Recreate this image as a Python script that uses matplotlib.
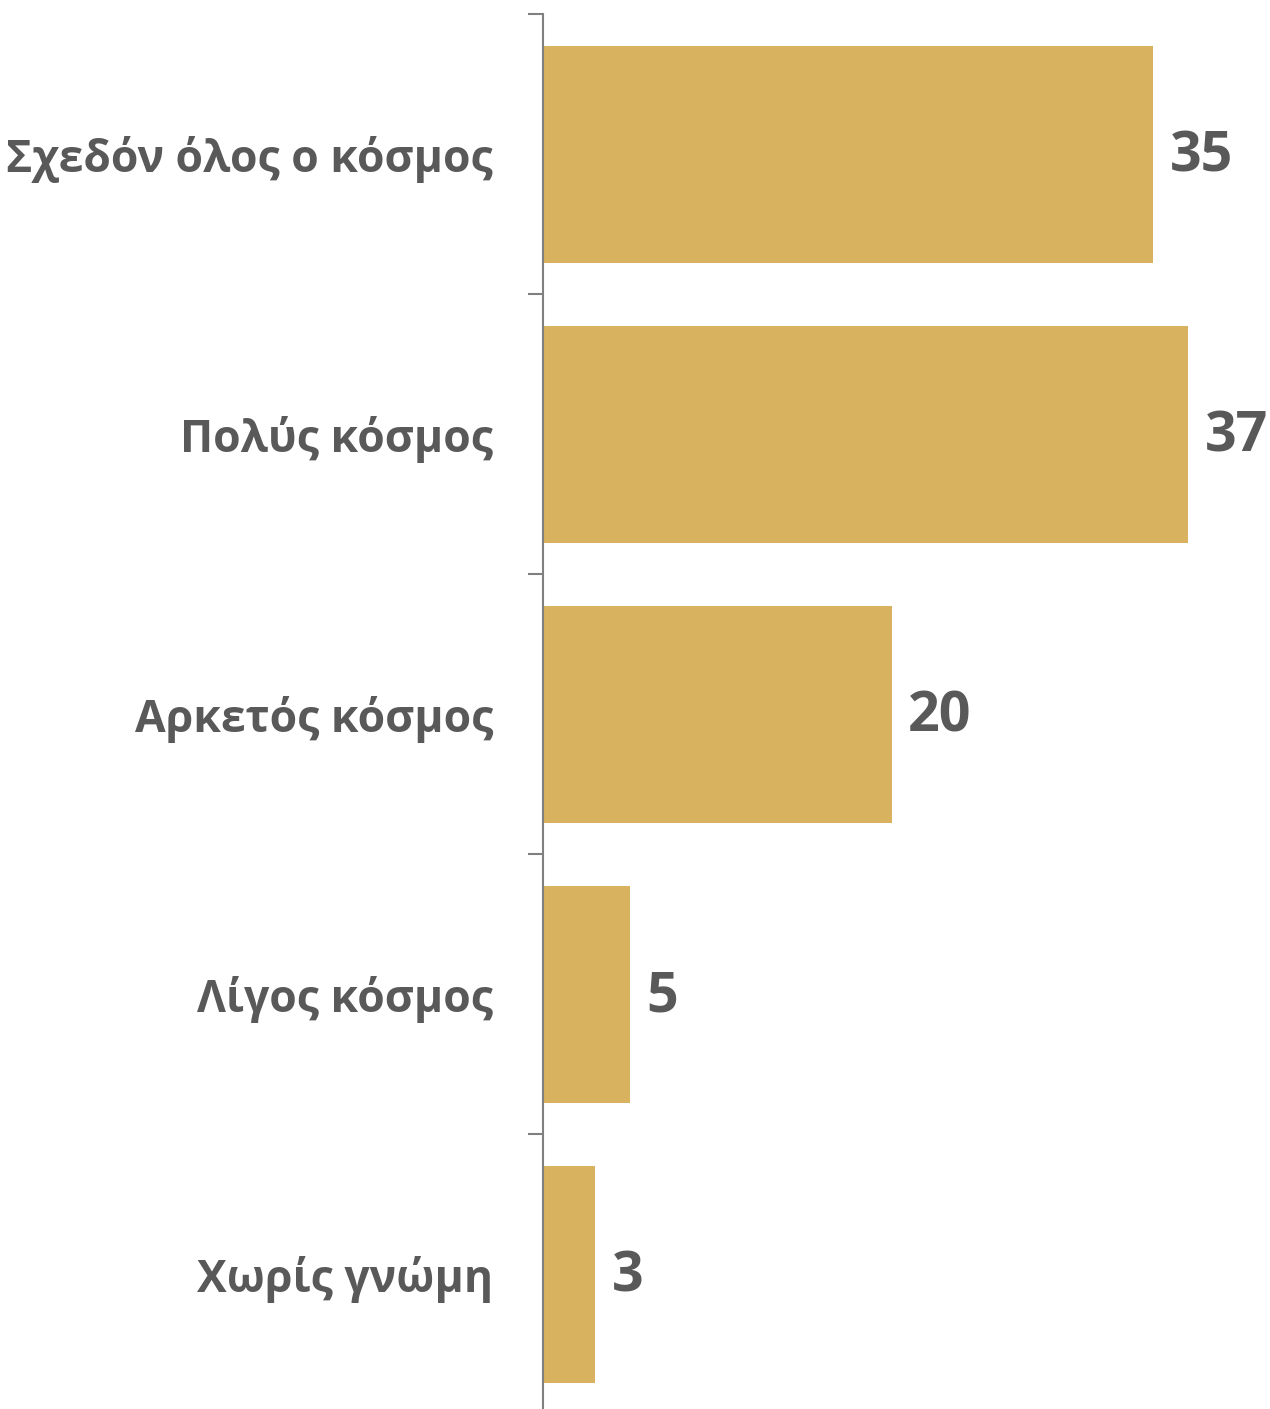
import numpy as np
import matplotlib.pyplot as plt

categories = ['Σχεδόν όλος ο κόσμος', 'Πολύς κόσμος', 'Αρκετός κόσμος', 'Λίγος κόσμος', 'Χωρίς γνώμη']
values = [35, 37, 20, 5, 3]

bar_color = '#D8B25E'
text_color = '#595959'

plt.rcParams['font.family'] = ['Open Sans', 'DejaVu Sans']

fig = plt.figure(figsize=(12.7, 14.09), dpi=100)
# axes: left spine at x=543px, top at y=14px, 280px per category
ax = fig.add_axes([543 / 1270, (1409 - 1414) / 1409, (1270 - 543) / 1270, 1400 / 1409])

y = np.arange(len(categories))
ax.barh(y, values, height=0.775, color=bar_color)
ax.set_ylim(len(categories) - 0.5, -0.5)
ax.set_xlim(0, 727 / 17.43)

for yi, v in zip(y, values):
    ax.text(v + 0.95, yi + 0.012, str(v), va='center', ha='left', fontsize=40,
            fontweight='bold', color=text_color)

ax.set_yticks(y)
ax.set_yticklabels(categories, fontsize=32, fontweight='bold', color=text_color)
ax.tick_params(axis='y', which='major', length=0, pad=36)
ax.set_yticks(np.arange(-0.5, len(categories), 1.0), minor=True)
ax.tick_params(axis='y', which='minor', length=11, width=1.5, color='#808080')
ax.set_xticks([])

for s in ['top', 'right', 'bottom']:
    ax.spines[s].set_visible(False)
ax.spines['left'].set_color('#808080')
ax.spines['left'].set_linewidth(1.5)

fig.savefig('out.png', dpi=100)
